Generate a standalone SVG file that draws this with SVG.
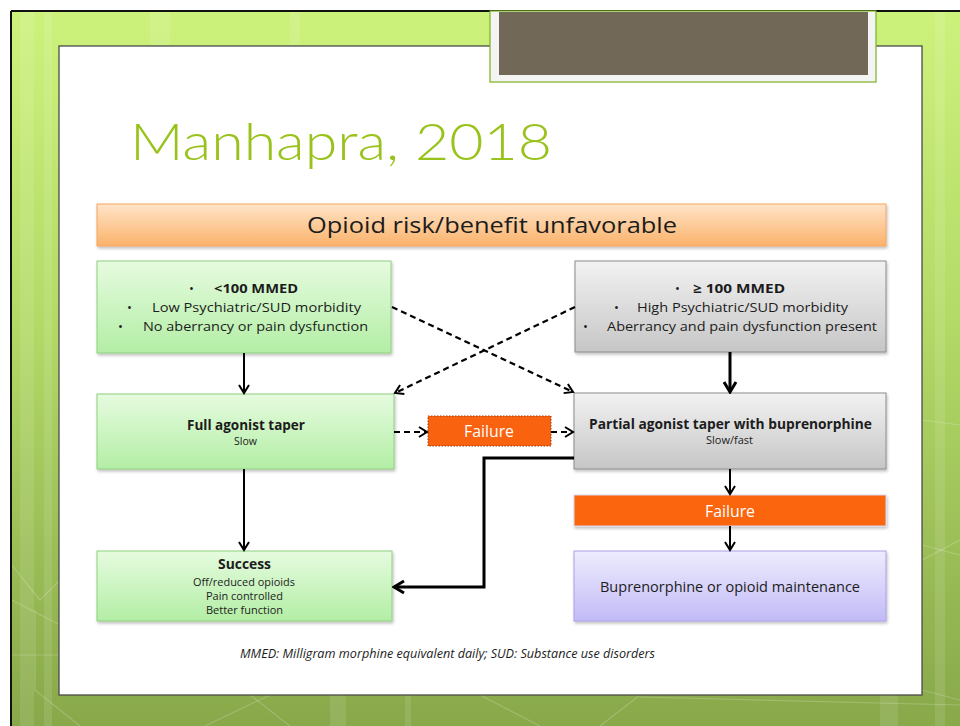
<svg xmlns="http://www.w3.org/2000/svg" width="960" height="726" viewBox="0 0 960 726">
<defs>
  <linearGradient id="bg" x1="0" y1="0" x2="0" y2="1">
    <stop offset="0" stop-color="#cdf27c"/>
    <stop offset="0.45" stop-color="#b2d966"/>
    <stop offset="1" stop-color="#88a84a"/>
  </linearGradient>
  <linearGradient id="gOrange" x1="0" y1="0" x2="0" y2="1">
    <stop offset="0" stop-color="#fee4c8"/>
    <stop offset="1" stop-color="#fbb26a"/>
  </linearGradient>
  <linearGradient id="gGreen" x1="0" y1="0" x2="0" y2="1">
    <stop offset="0" stop-color="#e6fbdf"/>
    <stop offset="1" stop-color="#b3eea5"/>
  </linearGradient>
  <linearGradient id="gGray" x1="0" y1="0" x2="0" y2="1">
    <stop offset="0" stop-color="#f2f2f2"/>
    <stop offset="1" stop-color="#c6c6c6"/>
  </linearGradient>
  <linearGradient id="gLav" x1="0" y1="0" x2="0" y2="1">
    <stop offset="0" stop-color="#eeecfd"/>
    <stop offset="1" stop-color="#c2bbf7"/>
  </linearGradient>
  <marker id="arr" markerUnits="userSpaceOnUse" markerWidth="14" markerHeight="14" viewBox="-12 -7 14 14" refX="0" refY="0" orient="auto">
    <polyline points="-8,-5 0,0 -8,5" fill="none" stroke="#000" stroke-width="2"/>
  </marker>
  <marker id="arrB" markerUnits="userSpaceOnUse" markerWidth="16" markerHeight="16" viewBox="-14 -8 16 16" refX="0" refY="0" orient="auto">
    <polyline points="-10,-6 0,0 -10,6" fill="none" stroke="#000" stroke-width="3"/>
  </marker>
  <filter id="sh" x="-5%" y="-10%" width="110%" height="130%">
    <feDropShadow dx="1" dy="2" stdDeviation="1.5" flood-color="#000" flood-opacity="0.25"/>
  </filter>
</defs>
<style>
  .t { font-family: "Open Sans", "Liberation Sans", sans-serif; fill: #1c1c1c; }
  .b { font-weight: bold; }
  .c { text-anchor: middle; }
  .solid { fill: none; stroke: #000; stroke-width: 2; }
  .thick { fill: none; stroke: #000; stroke-width: 3; }
  .dash { fill: none; stroke: #000; stroke-width: 2.2; stroke-dasharray: 6 4; }
  .deco { fill: none; stroke: #ffffff; stroke-opacity: 0.2; stroke-width: 1.2; }
</style>

<!-- background -->
<rect x="0" y="0" width="960" height="726" fill="#ffffff"/>
<rect x="11" y="11" width="949" height="715" fill="url(#bg)"/>
<g opacity="0.1" fill="#ffffff">
  <rect x="20" y="11" width="14" height="715"/>
  <rect x="44" y="11" width="8" height="715"/>
  <rect x="150" y="11" width="20" height="35"/>
  <rect x="290" y="11" width="10" height="35"/>
  <rect x="880" y="46" width="18" height="680"/>
  <rect x="935" y="11" width="10" height="715"/>
  <rect x="330" y="695" width="16" height="31"/>
  <rect x="405" y="695" width="6" height="31"/>
</g>
<g class="deco">
  <polyline points="12,565 40,600 60,580"/>
  <polyline points="12,600 60,625"/>
  <line x1="35" y1="610" x2="35" y2="690"/>
  <line x1="12" y1="655" x2="59" y2="655"/>
  <polyline points="35,690 80,726"/>
  <line x1="922" y1="560" x2="960" y2="540"/>
  <line x1="922" y1="420" x2="960" y2="425"/>
  <line x1="922" y1="545" x2="960" y2="555"/>
  <line x1="922" y1="690" x2="960" y2="700"/>
  <polyline points="250,695 290,726"/>
  <polyline points="205,726 270,695"/>
  <polyline points="480,695 540,726"/>
  <polyline points="600,726 640,695"/>
  <line x1="640" y1="697" x2="960" y2="705"/>
</g>
<line x1="11" y1="11" x2="960" y2="11" stroke="#111" stroke-width="2"/>
<line x1="11" y1="11" x2="11" y2="726" stroke="#111" stroke-width="2"/>

<!-- content panel -->
<rect x="59" y="46" width="863" height="649" fill="#ffffff" stroke="#4a4a4a" stroke-width="1.3"/>

<!-- top tab -->
<rect x="490" y="11" width="386" height="71" fill="#f4f4f4" stroke="#7ab020" stroke-width="1.2"/>
<rect x="499" y="12" width="369" height="63" fill="#716858"/>

<!-- title -->
<text x="130" y="160" font-family="Lato, 'Open Sans', sans-serif" font-weight="300" font-size="52" fill="#99c31c" textLength="422" lengthAdjust="spacingAndGlyphs">Manhapra, 2018</text>

<!-- header -->
<g id="header">
  <rect x="97" y="204" width="789" height="42" fill="url(#gOrange)" stroke="#f6a65c" stroke-width="1" filter="url(#sh)"/>
  <text class="t c" x="492" y="233" font-size="22" textLength="370" lengthAdjust="spacingAndGlyphs">Opioid risk/benefit unfavorable</text>
</g>

<!-- left criteria -->
<g id="low">
  <rect x="97" y="261" width="294" height="92" fill="url(#gGreen)" stroke="#8fd07f" stroke-width="1" filter="url(#sh)"/>
  <text class="t" x="189" y="293" font-size="13">•</text>
  <text class="t b" x="214" y="293" font-size="13" textLength="84" lengthAdjust="spacingAndGlyphs">&lt;100 MMED</text>
  <text class="t" x="127" y="312" font-size="13">•</text>
  <text class="t" x="152" y="312" font-size="13" textLength="209" lengthAdjust="spacingAndGlyphs">Low Psychiatric/SUD morbidity</text>
  <text class="t" x="118" y="331" font-size="13">•</text>
  <text class="t" x="143" y="331" font-size="13" textLength="225" lengthAdjust="spacingAndGlyphs">No aberrancy or pain dysfunction</text>
</g>

<!-- right criteria -->
<g id="high">
  <rect x="575" y="261" width="311" height="91" fill="url(#gGray)" stroke="#8c8c8c" stroke-width="1" filter="url(#sh)"/>
  <text class="t" x="675" y="293" font-size="13">•</text>
  <text class="t b" x="693" y="293" font-size="13" textLength="92" lengthAdjust="spacingAndGlyphs">≥ 100 MMED</text>
  <text class="t" x="614" y="312" font-size="13">•</text>
  <text class="t" x="637" y="312" font-size="13" textLength="211" lengthAdjust="spacingAndGlyphs">High Psychiatric/SUD morbidity</text>
  <text class="t" x="583" y="331" font-size="13">•</text>
  <text class="t" x="607" y="331" font-size="13" textLength="270" lengthAdjust="spacingAndGlyphs">Aberrancy and pain dysfunction present</text>
</g>

<!-- full agonist -->
<g id="full">
  <rect x="97" y="394" width="297" height="75" fill="url(#gGreen)" stroke="#8fd07f" stroke-width="1" filter="url(#sh)"/>
  <text class="t b c" x="246" y="430" font-size="14" textLength="118" lengthAdjust="spacingAndGlyphs">Full agonist taper</text>
  <text class="t c" x="245.5" y="445" font-size="10" textLength="23" lengthAdjust="spacingAndGlyphs">Slow</text>
</g>

<!-- failure middle -->
<g id="failMid">
  <rect x="428" y="416" width="123" height="30" fill="#f9620f" stroke="#9a3a08" stroke-width="1" stroke-dasharray="1.5 1.5"/>
  <text class="c" x="489" y="437" font-family="'Open Sans', 'Liberation Sans', sans-serif" font-size="16" fill="#ffffff" textLength="50" lengthAdjust="spacingAndGlyphs">Failure</text>
</g>

<!-- partial agonist -->
<g id="partial">
  <rect x="574" y="393" width="312" height="76" fill="url(#gGray)" stroke="#8c8c8c" stroke-width="1" filter="url(#sh)"/>
  <text class="t b c" x="730.5" y="429" font-size="14" textLength="283" lengthAdjust="spacingAndGlyphs">Partial agonist taper with buprenorphine</text>
  <text class="t c" x="729.5" y="444" font-size="10" textLength="47" lengthAdjust="spacingAndGlyphs">Slow/fast</text>
</g>

<!-- failure right -->
<g id="failRight">
  <rect x="574" y="495" width="312" height="31" fill="#fb6510" stroke="#d9d9ee" stroke-width="1" filter="url(#sh)"/>
  <text class="c" x="730" y="517" font-family="'Open Sans', 'Liberation Sans', sans-serif" font-size="16" fill="#ffffff" textLength="50" lengthAdjust="spacingAndGlyphs">Failure</text>
</g>

<!-- success -->
<g id="success">
  <rect x="97" y="551" width="295" height="70" fill="url(#gGreen)" stroke="#8fd07f" stroke-width="1" filter="url(#sh)"/>
  <text class="t b c" x="244.5" y="569" font-size="14" textLength="53" lengthAdjust="spacingAndGlyphs">Success</text>
  <text class="t c" x="244" y="586" font-size="11" textLength="102" lengthAdjust="spacingAndGlyphs">Off/reduced opioids</text>
  <text class="t c" x="244.5" y="600" font-size="11" textLength="77" lengthAdjust="spacingAndGlyphs">Pain controlled</text>
  <text class="t c" x="244.5" y="614" font-size="11" textLength="77" lengthAdjust="spacingAndGlyphs">Better function</text>
</g>

<!-- maintenance -->
<g id="maint">
  <rect x="574" y="551" width="312" height="70" fill="url(#gLav)" stroke="#a9a0e8" stroke-width="1" filter="url(#sh)"/>
  <text class="t c" x="730" y="592" font-size="15" textLength="260" lengthAdjust="spacingAndGlyphs">Buprenorphine or opioid maintenance</text>
</g>

<!-- footer -->
<text x="240" y="658" font-family="'Open Sans', 'Liberation Sans', sans-serif" font-style="italic" font-size="12" fill="#1c1c1c" textLength="415" lengthAdjust="spacingAndGlyphs">MMED: Milligram morphine equivalent daily; SUD: Substance use disorders</text>

<!-- connectors -->
<g id="connectors">
  <line class="solid" x1="244" y1="353" x2="244" y2="393" marker-end="url(#arr)"/>
  <line class="solid" x1="244" y1="469" x2="244" y2="550" marker-end="url(#arr)"/>
  <line class="thick" x1="730" y1="352" x2="730" y2="392" marker-end="url(#arrB)"/>
  <line class="solid" x1="730" y1="469" x2="730" y2="494" marker-end="url(#arr)"/>
  <line class="solid" x1="730" y1="526" x2="730" y2="550" marker-end="url(#arr)"/>
  <polyline class="thick" points="574,458 484,458 484,587 394,587" marker-end="url(#arrB)"/>
  <line class="dash" x1="394" y1="432" x2="427" y2="432" marker-end="url(#arr)"/>
  <line class="dash" x1="551" y1="432" x2="573" y2="432" marker-end="url(#arr)"/>
  <line class="dash" x1="392" y1="307" x2="573" y2="392" marker-end="url(#arr)"/>
  <line class="dash" x1="575" y1="307" x2="395" y2="393" marker-end="url(#arr)"/>
</g>
</svg>
